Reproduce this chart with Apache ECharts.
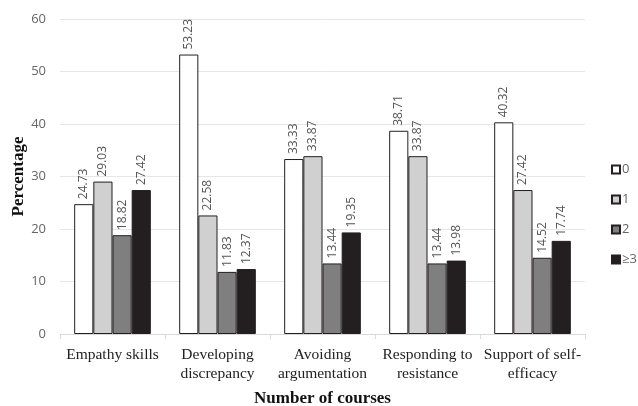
<!DOCTYPE html>
<html><head><meta charset="utf-8">
<script src="https://cdn.jsdelivr.net/npm/echarts@6/dist/echarts.min.js"></script>
<style>html,body{margin:0;padding:0;background:#fff}#c{width:638px;height:406px}</style>
</head><body><div id="c"></div>
<script>
const categories = ["Empathy skills", "Developing\ndiscrepancy", "Avoiding\nargumentation", "Responding to\nresistance", "Support of self-\nefficacy"];
const seriesNames = ["0", "1", "2", "≥3"];
const s0 = [24.73, 53.23, 33.33, 38.71, 40.32];
const s1 = [29.03, 22.58, 33.87, 33.87, 27.42];
const s2 = [18.82, 11.83, 13.44, 13.44, 14.52];
const s3 = [27.42, 12.37, 19.35, 13.98, 17.74];
const yTicks = [0, 10, 20, 30, 40, 50, 60];
const colors = ["#ffffff", "#d0d0d0", "#7f7f7f", "#231f20"];
const data = [s0, s1, s2, s3];

const chart = echarts.init(document.getElementById('c'));
chart.setOption({
  animation: false,
  grid: {left: 60, right: 53, top: 19, bottom: 72, containLabel: false, outerBoundsMode: 'none'},
  legend: {
    orient: 'vertical', left: 611, top: 163, itemGap: 17, itemWidth: 8, itemHeight: 8,
    icon: 'rect', padding: 0,
    textStyle: {color: '#666', fontSize: 13, fontFamily: 'Open Sans', padding: [0, 0, 0, -3]},
    data: seriesNames
  },
  xAxis: {
    type: 'category', data: categories,
    name: 'Number of courses', nameLocation: 'middle', nameGap: 56,
    nameTextStyle: {fontFamily: 'Liberation Serif', fontWeight: 'bold', fontSize: 17, color: '#111'},
    axisLine: {lineStyle: {color: '#d9d9d9'}},
    axisTick: {show: true, length: 5, lineStyle: {color: '#d9d9d9'}},
    axisLabel: {fontFamily: 'Liberation Serif', fontSize: 15.5, color: '#222', margin: 12, lineHeight: 18.5, interval: 0}
  },
  yAxis: {
    type: 'value', min: yTicks[0], max: yTicks[yTicks.length - 1], interval: 10,
    name: 'Percentage', nameLocation: 'middle', nameGap: 33, nameMoveOverlap: false,
    nameTextStyle: {fontFamily: 'Liberation Serif', fontWeight: 'bold', fontSize: 17, color: '#111'},
    axisLine: {show: false}, axisTick: {show: false},
    axisLabel: {fontFamily: 'Open Sans', fontSize: 13, color: '#666', margin: 14},
    splitLine: {lineStyle: {color: '#e6e6e6'}}
  },
  series: data.map((d, i) => ({
    name: seriesNames[i], type: 'bar', data: d,
    barGap: '0%', barCategoryGap: '27%',
    itemStyle: {color: colors[i], borderColor: '#231f20', borderWidth: 1},
    label: {
      show: true, position: 'top', rotate: 90, align: 'left', verticalAlign: 'middle',
      distance: 5, fontFamily: 'Open Sans', fontSize: 12, color: '#555',
      formatter: p => p.value.toFixed(2)
    }
  }))
});
</script></body></html>
